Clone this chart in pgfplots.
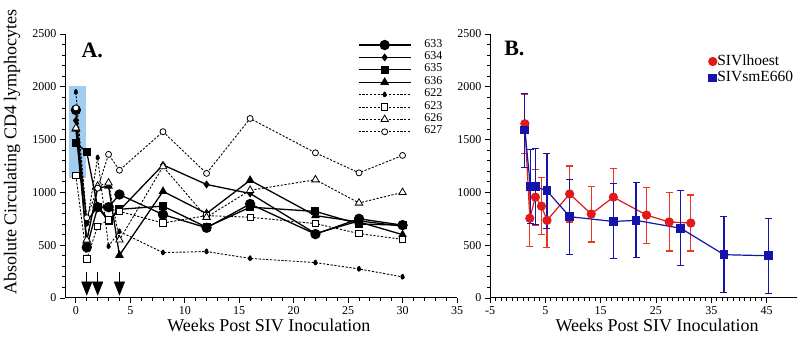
\documentclass[border=0pt]{standalone}
\usepackage{pgfplots}
\pgfplotsset{compat=1.18}
\usepackage{fontspec}
\setmainfont{Liberation Serif}
\usetikzlibrary{arrows.meta}
\definecolor{boxblue}{RGB}{160,205,240}
\definecolor{myred}{RGB}{225,25,25}
\definecolor{myblue}{RGB}{20,20,170}
\definecolor{errred}{RGB}{235,55,30}
\begin{document}
\begin{tikzpicture}
\useasboundingbox (0pt,0pt) rectangle (799pt,352pt);
\pgfplotsset{
  common/.style={
    scale only axis, height=264pt,
    ymin=0, ymax=2500, ytick={0,500,...,2500},
    minor y tick num=4,
    axis lines*=left,
    tick align=outside,
    major tick length=5pt, minor tick length=3pt,
    every tick/.style={black, line width=0.8pt},
    axis line style={line width=1pt},
    /pgf/number format/assume math mode=true,
    /pgf/number format/1000 sep={},
    tick label style={font=\fontsize{12}{14}\selectfont},
    label style={font=\fontsize{18}{20}\selectfont},
    clip=false,
  },
  solidA/.style={black, line width=1.3pt, mark options={solid, fill=black}},
  dotA/.style={black, line width=0.9pt, dash pattern=on 2.2pt off 1.6pt, mark options={solid, fill=white, line width=0.8pt}},
}
% ---------------- Panel A ----------------
\begin{axis}[common, at={(65pt,54pt)}, anchor=south west, width=392pt,
  xmin=-1, xmax=35, xtick={0,5,...,35}, minor x tick num=4,
  xlabel={Weeks Post SIV Inoculation},
  xlabel style={at={(axis description cs:0.52,-0.102)}, anchor=center},
  ylabel={Absolute Circulating CD4 lymphocytes},
  ylabel style={at={(axis description cs:-0.135,0.553)}, anchor=center},
  legend style={at={(axis description cs:0.747,0.978)}, anchor=north west, draw=none, fill=none,
    inner sep=0pt, font=\fontsize{12}{12}\selectfont, row sep=2.4pt, column sep=13pt,
    nodes={inner sep=0pt, text height=7pt, text depth=3pt}},
  legend cell align=left,
  legend image code/.code={\draw[mark repeat=2,mark phase=2] plot coordinates {(0pt,0pt) (26pt,0pt) (52pt,0pt)};},
]
\fill[boxblue] (axis cs:-0.67,1138) rectangle (axis cs:0.9,2012);
\addplot[solidA, mark=*, mark size=4.5pt] coordinates {(0,1780)(1,480)(2,860)(3,860)(4,980)(8,790)(12,665)(16,890)(22,605)(26,750)(30,690)};
\addplot[solidA, mark=diamond*, mark size=3pt] coordinates {(0,1680)(1,720)(2,870)(3,740)(4,830)(8,1260)(12,1075)(16,990)(22,610)(26,730)(30,680)};
\addplot[solidA, mark=square*, mark size=3.3pt] coordinates {(0,1470)(1,1380)(2,860)(3,730)(4,840)(8,870)(12,670)(16,860)(22,820)(26,700)(30,690)};
\addplot[solidA, mark=triangle*, mark size=3.8pt] coordinates {(0,1600)(1,540)(2,1040)(3,1060)(4,405)(8,1010)(12,800)(16,1115)(22,780)(26,720)(30,600)};
\addplot[dotA, mark=diamond*, mark size=2.8pt, mark options={fill=black}] coordinates {(0,1950)(1,700)(2,1330)(3,490)(4,630)(8,430)(12,440)(16,375)(22,335)(26,275)(30,200)};
\addplot[dotA, mark=square*, mark size=3.2pt] coordinates {(0,1160)(1,370)(2,680)(3,740)(4,820)(8,710)(12,780)(16,765)(22,705)(26,610)(30,555)};
\addplot[dotA, mark=triangle*, mark size=4.3pt] coordinates {(0,1610)(1,550)(2,1060)(3,1090)(4,550)(8,1245)(12,765)(16,1020)(22,1120)(26,900)(30,1000)};
\addplot[dotA, mark=*, mark size=3pt] coordinates {(0,1800)(1,760)(2,1040)(3,1360)(4,1210)(8,1575)(12,1180)(16,1700)(22,1375)(26,1185)(30,1350)};
\legend{633,634,635,636,622,623,626,627}
\foreach \w in {1,2,4}{
  \edef\temp{\noexpand\draw[line width=0.6pt, -{Triangle[length=14pt,width=11pt]}] (axis cs:\w,250) -- (axis cs:\w,22);}
  \temp
}
\node[font=\fontsize{22}{22}\selectfont\bfseries] at (axis cs:1.5,2345) {A.};
\end{axis}
% ---------------- Panel B ----------------
\begin{axis}[common, at={(490pt,54pt)}, anchor=south west, width=307pt,
  xmin=-5, xmax=50.5, xtick={-5,5,...,45}, minor x tick num=9,
  xlabel={Weeks Post SIV Inoculation},
  xlabel style={at={(axis description cs:0.544,-0.102)}, anchor=center},
  legend style={at={(axis description cs:0.712,0.922)}, anchor=north west, draw=none, fill=none,
    inner sep=0pt, font=\fontsize{15.5}{15.5}\selectfont, row sep=3pt, column sep=0.5pt,
    nodes={inner sep=0pt, text height=10.5pt, text depth=3pt}},
  legend cell align=left,
  legend image code/.code={\draw plot coordinates {(0pt,0pt)};},
]
\addplot[myred, line width=1.2pt, mark=*, mark size=4pt, mark options={fill=myred, draw=myred},
  error bars/.cd, y dir=both, y explicit,
  error bar style={errred, line width=1.1pt},
  error mark options={rotate=90, mark size=3.5pt, errred, line width=1.1pt}]
  coordinates {(1.3,1650) +- (0,280) (2.2,755) +- (0,270) (3.2,955) +- (0,265) (4.3,870) +- (0,270) (5.3,735) +- (0,260)
  (9.4,985) +- (0,265) (13.3,795) +- (0,265) (17.3,955) +- (0,270) (23.3,785) +- (0,265) (27.4,720) +- (0,275) (31.3,710) +- (0,265)};
\addlegendentry{SIVlhoest}
\addplot[myblue, line width=1.2pt, mark=square*, mark size=3.8pt, mark options={fill=myblue, draw=myblue},
  error bars/.cd, y dir=both, y explicit,
  error bar style={myblue, line width=1.1pt},
  error mark options={rotate=90, mark size=3.5pt, myblue, line width=1.1pt}]
  coordinates {(1.3,1590) +- (0,350) (2.3,1055) +- (0,350) (3.2,1055) +- (0,360) (5.3,1015) +- (0,355) (9.4,770) +- (0,355)
  (17.3,725) +- (0,355) (21.4,735) +- (0,355) (29.5,660) +- (0,355) (37.3,410) +- (0,360) (45.4,400) +- (0,355)};
\addlegendentry{SIVsmE660}
\node[font=\fontsize{22}{22}\selectfont\bfseries] at (axis cs:-0.6,2360) {B.};
\end{axis}
\end{tikzpicture}
\end{document}
